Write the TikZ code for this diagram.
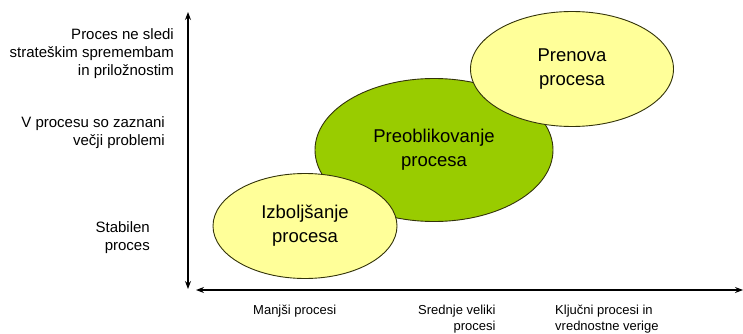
\documentclass[tikz,border=0pt]{standalone}
\usepackage{fontspec}
\setmainfont{Liberation Sans}
\usetikzlibrary{shapes.geometric,arrows.meta}
\definecolor{paleyellow}{HTML}{FFFF99}
\definecolor{leafgreen}{HTML}{99CC00}
\definecolor{rimdark}{HTML}{33330A}
\tikzset{
  phase/.style={ellipse, draw=rimdark, line width=0.9pt, align=center,
    font=\fontsize{18.5}{24}\selectfont, inner sep=0pt},
  yaxlabel/.style={anchor=east, align=right, font=\fontsize{15}{18}\selectfont, inner sep=0pt},
  xaxlabel/.style={anchor=north west, align=right, font=\fontsize{13}{16}\selectfont, inner sep=0pt},
  axisline/.style={line width=1.1pt, {Stealth[length=8pt,width=6pt]}-{Stealth[length=8pt,width=6pt]}}
}
\begin{document}
\begin{tikzpicture}[x=1pt,y=-1pt]
\useasboundingbox (0,0) rectangle (743,334);
\fill[white] (0,0) rectangle (743,334);

% axes
\coordinate (vtop) at (188,12);
\coordinate (vbot) at (188,289);
\coordinate (hleft) at (196,290);
\coordinate (hright) at (743,290);
\draw[axisline] (vtop) -- (vbot);
\draw[axisline] (hleft) -- (hright);

% process phases
\node[phase, fill=leafgreen, minimum width=238, minimum height=143] (redesign) at (434,150) {Preoblikovanje\\procesa};
\node[phase, fill=paleyellow, minimum width=184, minimum height=105] (improve) at (305,226) {Izboljšanje\\procesa};
\node[phase, fill=paleyellow, minimum width=203, minimum height=115] (renew) at (572,69) {Prenova\\procesa};

% vertical axis labels
\node[yaxlabel] (ya) at (174,54) {Proces ne sledi\\strateškim spremembam\\in priložnostim};
\node[yaxlabel] (yb) at (165,133) {V procesu so zaznani\\večji problemi};
\node[yaxlabel] (yc) at (150,238) {Stabilen\\proces};

% horizontal axis labels
\node[xaxlabel] (xa) at (253,305) {Manjši procesi};
\node[xaxlabel] (xb) at (418,305) {Srednje veliki\\procesi};
\node[xaxlabel, align=left] (xc) at (555,305) {Ključni procesi in\\vrednostne verige};
\end{tikzpicture}
\end{document}
